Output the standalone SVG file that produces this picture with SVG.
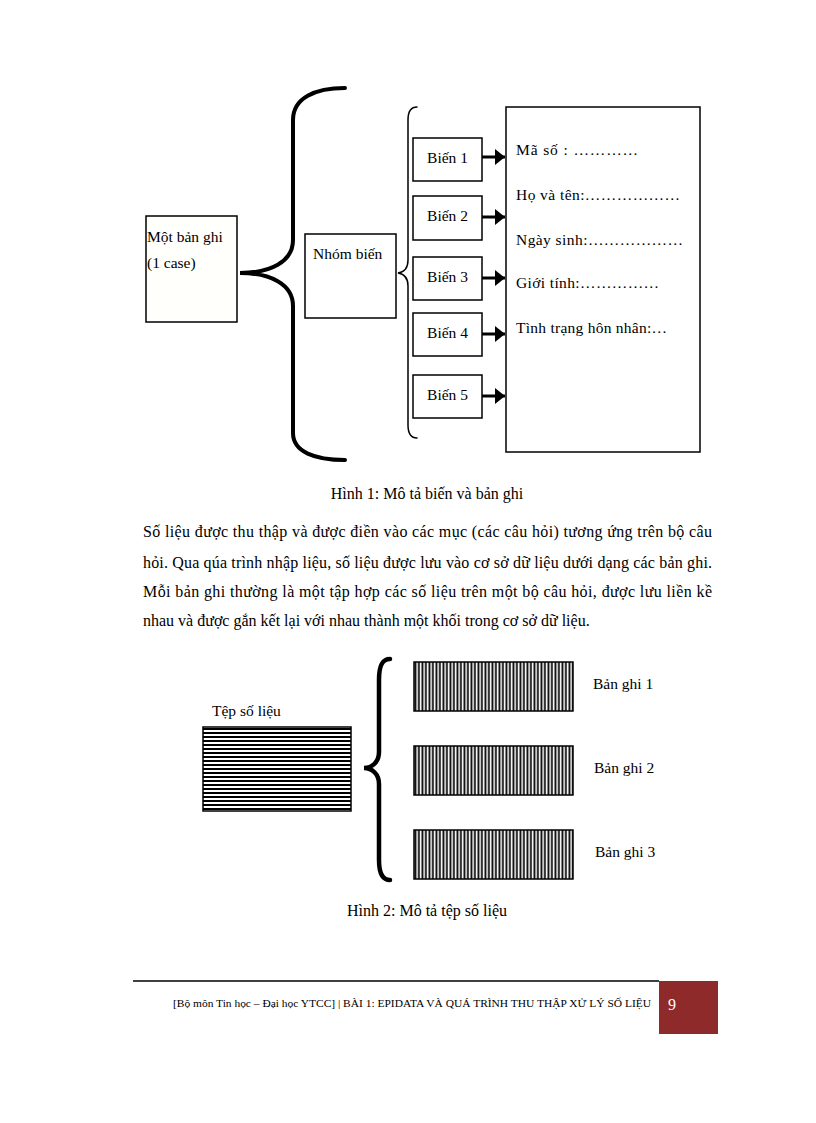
<svg xmlns="http://www.w3.org/2000/svg" width="816" height="1123" viewBox="0 0 816 1123">
<style>
text{font-family:"Liberation Serif","Times New Roman",serif;fill:#000}
.lbl{font-size:15.5px}
.body{font-size:16px}
.box{fill:#fff;stroke:#000;stroke-width:1.5}
.brace{fill:none;stroke:#000;stroke-linecap:round}
.arr{stroke:#000;stroke-width:3;fill:none}
.foot{font-size:11px}
</style>
<defs>
<marker id="ah" markerUnits="userSpaceOnUse" markerWidth="11" markerHeight="16" refX="10" refY="8" orient="auto">
<path d="M0,0 L10,8 L0,16 Z" fill="#000"/>
</marker>
<pattern id="hstripe" patternUnits="userSpaceOnUse" x="0" y="727" width="10" height="4">
<rect width="10" height="4" fill="#fff"/><rect y="1" width="10" height="2" fill="#000" shape-rendering="crispEdges"/>
</pattern>
<pattern id="vstripe" patternUnits="userSpaceOnUse" x="414" y="0" width="3.5" height="10">
<rect width="3.5" height="10" fill="#fff"/><rect x="0.5" width="1.8" height="10" fill="#000"/>
</pattern>
</defs>
<rect width="816" height="1123" fill="#fff"/>

<!-- Figure 1 -->
<g id="node-record">
<rect x="146" y="216" width="91" height="106" fill="#fffffb" stroke="#000" stroke-width="1.5"/>
<text class="lbl" x="147" y="242">Một bản ghi</text>
<text class="lbl" x="147" y="268">(1 case)</text>
</g>
<g id="node-group">
<rect class="box" x="305" y="234" width="91" height="84"/>
<text class="lbl" x="313" y="259">Nhóm biến</text>
</g>
<g id="node-bien1"><rect class="box" x="413" y="138" width="69" height="43"/><text class="lbl" x="447.5" y="163" text-anchor="middle">Biến 1</text></g>
<g id="node-bien2"><rect class="box" x="413" y="196" width="69" height="44"/><text class="lbl" x="447.5" y="221" text-anchor="middle">Biến 2</text></g>
<g id="node-bien3"><rect class="box" x="413" y="257" width="69" height="43"/><text class="lbl" x="447.5" y="282" text-anchor="middle">Biến 3</text></g>
<g id="node-bien4"><rect class="box" x="413" y="313" width="69" height="43"/><text class="lbl" x="447.5" y="338" text-anchor="middle">Biến 4</text></g>
<g id="node-bien5"><rect class="box" x="413" y="375" width="69" height="43"/><text class="lbl" x="447.5" y="400" text-anchor="middle">Biến 5</text></g>
<g id="node-form">
<rect class="box" x="506" y="107" width="194" height="345"/>
<text class="lbl" x="516" y="155" textLength="122" lengthAdjust="spacing">Mã số : …………</text>
<text class="lbl" x="516" y="200" textLength="164" lengthAdjust="spacing">Họ và tên:………………</text>
<text class="lbl" x="516" y="245" textLength="167" lengthAdjust="spacing">Ngày sinh:………………</text>
<text class="lbl" x="516" y="288" textLength="143" lengthAdjust="spacing">Giới tính:……………</text>
<text class="lbl" x="516" y="333" textLength="151" lengthAdjust="spacing">Tình trạng hôn nhân:…</text>
</g>
<g id="connectors">
<path class="brace" stroke-width="4" d="M345,88 C315,88 293,98 293,120 L293,240 C293,262 270,273 240,273 C270,273 293,284 293,306 L293,433 C293,452 315,460 345,460"/>
<path class="brace" stroke-width="1.5" d="M417,107 C411,107 408,112 408,120 L408,260 C408,267 405,272 398,273 C405,274 408,279 408,286 L408,425 C408,433 411,438 417,438"/>
<line class="arr" x1="482" y1="157" x2="505" y2="157" marker-end="url(#ah)"/>
<line class="arr" x1="482" y1="217" x2="505" y2="217" marker-end="url(#ah)"/>
<line class="arr" x1="482" y1="278" x2="505" y2="278" marker-end="url(#ah)"/>
<line class="arr" x1="482" y1="334" x2="505" y2="334" marker-end="url(#ah)"/>
<line class="arr" x1="482" y1="396" x2="505" y2="396" marker-end="url(#ah)"/>
<path class="brace" stroke-width="4.5" d="M390,659 C382,659 379,666 379,680 L379,752 C379,762 372,768 364,768 C372,768 379,774 379,784 L379,860 C379,872 382,880 390,880"/>
</g>

<text class="body" x="427" y="499" text-anchor="middle">Hình 1: Mô tả biến và bản ghi</text>

<g id="paragraph">
<text class="body" x="143" y="537" textLength="569" lengthAdjust="spacing">Số liệu được thu thập và được điền vào các mục (các câu hỏi) tương ứng trên bộ câu</text>
<text class="body" x="143" y="568" textLength="569" lengthAdjust="spacing">hỏi. Qua qúa trình nhập liệu, số liệu được lưu vào cơ sở dữ liệu dưới dạng các bản ghi.</text>
<text class="body" x="143" y="597" textLength="569" lengthAdjust="spacing">Mỗi bản ghi thường là một tập hợp các số liệu trên một bộ câu hỏi, được lưu liền kề</text>
<text class="body" x="143" y="626">nhau và được gắn kết lại với nhau thành một khối trong cơ sở dữ liệu.</text>
</g>

<!-- Figure 2 -->
<g id="node-file">
<text class="lbl" x="212" y="716">Tệp số liệu</text>
<rect x="203" y="727" width="148" height="84" fill="url(#hstripe)" stroke="#000" stroke-width="1.5"/>
</g>
<g id="node-rec1">
<rect x="414" y="662" width="159" height="49" fill="url(#vstripe)" stroke="#000" stroke-width="1.5"/>
<text class="lbl" x="593" y="689">Bản ghi 1</text>
</g>
<g id="node-rec2">
<rect x="414" y="746" width="159" height="49" fill="url(#vstripe)" stroke="#000" stroke-width="1.5"/>
<text class="lbl" x="594" y="773">Bản ghi 2</text>
</g>
<g id="node-rec3">
<rect x="414" y="830" width="159" height="49" fill="url(#vstripe)" stroke="#000" stroke-width="1.5"/>
<text class="lbl" x="595" y="857">Bản ghi 3</text>
</g>

<text class="body" x="427" y="916" text-anchor="middle">Hình 2: Mô tả tệp số liệu</text>

<!-- Footer -->
<g id="footer">
<line x1="133" y1="981" x2="659" y2="981" stroke="#000" stroke-width="1.5"/>
<text class="foot" x="651" y="1007" text-anchor="end" textLength="478" lengthAdjust="spacingAndGlyphs">[Bộ môn Tin học – Đại học YTCC] | BÀI 1: EPIDATA VÀ QUÁ TRÌNH THU THẬP XỬ LÝ SỐ LIỆU</text>
<rect x="659" y="981" width="59" height="53" fill="#8f2a2a"/>
<text x="668" y="1010" style="font-size:16px;fill:#fff">9</text>
</g>
</svg>
